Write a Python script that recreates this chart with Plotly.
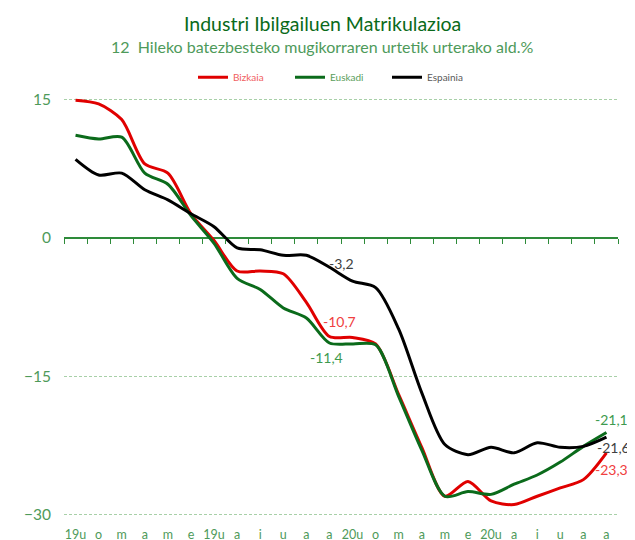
import plotly.graph_objects as go

# month labels (Basque abbreviations), Jan 2019 .. Dec 2020
months = ["19u", "o", "m", "a", "m", "e", "19u", "a", "i", "u", "a", "a",
          "20u", "o", "m", "a", "m", "e", "20u", "a", "i", "u", "a", "a"]

bizkaia = [14.9, 14.5, 12.8, 8.0, 7.0, 2.6, -0.3, -3.6, -3.6, -3.9, -7.0, -10.7,
           -10.8, -11.5, -17.0, -22.7, -28.0, -26.4, -28.5, -28.9, -28.0, -27.1, -26.2, -23.3]
euskadi = [11.1, 10.7, 10.9, 7.0, 5.8, 2.4, -0.6, -4.4, -5.6, -7.6, -8.7, -11.4,
           -11.5, -11.6, -17.2, -23.0, -28.0, -27.5, -27.8, -26.7, -25.7, -24.3, -22.6, -21.1]
espainia = [8.5, 6.8, 7.0, 5.2, 4.1, 2.6, 1.2, -1.1, -1.3, -1.9, -1.9, -3.2,
            -4.7, -5.4, -9.9, -16.8, -22.4, -23.5, -22.7, -23.3, -22.2, -22.7, -22.6, -21.6]

FONT = "Lato"
GREEN_TXT = "#4e9a5a"
x = list(range(len(months)))

# the page body adds an 8px offset; 15 sits at y=99 and -30 at y=515 on screen
OFF = 8
W, H = 635, 540
YMIN, YMAX = -30.25, 15.25          # a little padding so the edge gridlines are drawn
SCALE = (515 - 99) / 45.0
PL, PR = 64, 618
PT = 99 - (YMAX - 15) * SCALE
PB = 515 + (-30 - YMIN) * SCALE


def px(sx):
    return (sx - PL) / (PR - PL)


def py(sy):
    return (PB - sy) / (PB - PT)


fig = go.Figure()

series = [
    ("Bizkaia", bizkaia, "#e00000", "#f06060"),
    ("Euskadi", euskadi, "#0b6b1b", "#5a9e5a"),
    ("Espainia", espainia, "#000000", "#595959"),
]
for name, vals, col, txtcol in series:
    fig.add_trace(go.Scatter(
        x=x, y=vals, mode="lines", line=dict(color=col, width=3, shape="spline", smoothing=0.8),
        name=f"<span style='color:{txtcol}'>{name}</span>", hoverinfo="skip"))

# invisible trace so the tick axis on the zero line gets drawn
fig.add_trace(go.Scatter(x=x, y=[None] * len(x), xaxis="x2", showlegend=False, hoverinfo="skip"))

# data labels: (series values, index, colour, xshift, yshift)
labels = [
    (bizkaia, 11, "#f04040", 10, 15),
    (euskadi, 11, "#3e9a4e", -3, -14),
    (espainia, 11, "#404040", 12, 4),
    (euskadi, 23, "#3e9a4e", 5, 13),
    (espainia, 23, "#404040", 7, -10),
    (bizkaia, 23, "#f04040", 5, -17),
]
for vals, i, col, dx, dy in labels:
    fig.add_annotation(x=i, y=vals[i], text=f"{vals[i]:.1f}".replace(".", ","),
                       showarrow=False, xshift=dx, yshift=dy,
                       font=dict(family=FONT, size=14, color=col))

# titles
fig.add_annotation(text="Industri Ibilgailuen Matrikulazioa", xref="paper", yref="paper",
                   x=px(322), y=py(23), xanchor="center", yanchor="middle", showarrow=False,
                   font=dict(family=FONT, size=19.5, color="#0a6a1a"))
fig.add_annotation(text="12  Hileko batezbesteko mugikorraren urtetik urterako ald.%",
                   xref="paper", yref="paper", x=px(322), y=py(46),
                   xanchor="center", yanchor="middle",
                   showarrow=False, font=dict(family=FONT, size=16, color=GREEN_TXT))

fig.update_layout(
    width=W, height=H,
    margin=dict(l=PL - OFF, r=W - PR + OFF, t=PT - OFF, b=H - PB + OFF, autoexpand=False),
    plot_bgcolor="white", paper_bgcolor="white",
    font=dict(family=FONT, color=GREEN_TXT),
    legend=dict(orientation="h", x=px(193), y=py(77),
                xanchor="left", yanchor="middle", font=dict(size=10),
                entrywidth=52, bgcolor="rgba(0,0,0,0)"),
    xaxis=dict(range=[-0.5, 23.5], tickmode="array", tickvals=x, ticktext=months,
               showgrid=False, showline=False, zeroline=False, ticks="",
               ticklabelstandoff=8, tickfont=dict(size=12.5, color=GREEN_TXT)),
    xaxis2=dict(range=[-0.5, 23.5], overlaying="x", anchor="free",
                position=(0 - YMIN) / (YMAX - YMIN),
                tickmode="array", tickvals=[i - 0.5 for i in range(25)],
                ticks="outside", ticklen=5, tickcolor="#2e8b3a", tickwidth=1,
                showticklabels=False, showgrid=False, showline=False, zeroline=False),
    yaxis=dict(range=[YMIN, YMAX], tickvals=[15, 0, -15, -30], showgrid=True,
               gridcolor="#a8d0a8", griddash="3px,2px", gridwidth=1,
               zeroline=True, zerolinecolor="#2e8b3a", zerolinewidth=2,
               showline=False, ticks="", ticklabelstandoff=12,
               tickfont=dict(size=15.5, color=GREEN_TXT)),
)

fig.write_html("out.html")
